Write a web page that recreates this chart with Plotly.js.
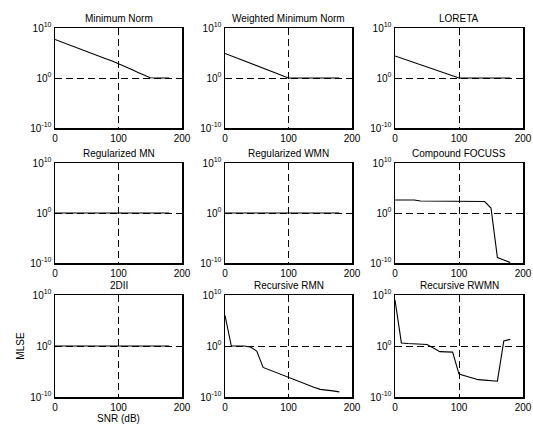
<!DOCTYPE html>
<html>
<head>
<meta charset="utf-8">
<script src="https://cdn.plot.ly/plotly-3.0.1.min.js"></script>
<style>html,body{margin:0;padding:0;background:#fff;}#chart{width:533px;height:426px;}</style>
</head>
<body>
<div id="chart"></div>
<script>
// SNR values (dB)
const snr = [0,10,20,30,40,50,60,70,80,90,100,110,120,130,140,150,160,170,180];

// log10(MLSE), one array per method
const titles = ["Minimum Norm","Weighted Minimum Norm","LORETA",
                "Regularized MN","Regularized WMN","Compound FOCUSS",
                "2DII","Recursive RMN","Recursive RWMN"];
const minNorm    = [7.7,7.2,6.75,6.25,5.8,5.3,4.8,4.35,3.85,3.4,2.9,2.3,1.75,1.15,0.6,0.05,0,0,0];
const wmn        = [4.9,4.4,3.9,3.4,2.9,2.4,1.9,1.4,0.9,0.45,0,0,0,0,0,0,0,0,0];
const loreta     = [4.4,3.95,3.5,3.1,2.65,2.2,1.75,1.3,0.9,0.45,0,0,0,0,0,0,0,0,0];
const regMN      = [0,0,0,0,0,0,0,0,0,0,0,0,0,0,0,0,0,0,0];
const regWMN     = [0,0,0,0,0,0,0,0,0,0,0,0,0,0,0,0,0,0,0];
const focuss     = [2.6,2.6,2.6,2.6,2.4,2.4,2.35,2.3,2.3,2.3,2.3,2.3,2.3,2.3,2.3,1.0,-8.9,-9.4,-9.9];
const dii        = [0,0,0,0,0,0,0,0,0,0,0,0,0,0,0,0,0,0,0];
const recRMN     = [6,0,0,0,-0.2,-1.0,-4.2,-4.7,-5.2,-5.7,-6.2,-6.6,-7.1,-7.6,-8.1,-8.5,-8.6,-8.8,-9.0];
const recRWMN    = [9,0.6,0.5,0.45,0.4,0.3,-0.4,-1.1,-1.15,-1.2,-5.5,-5.9,-6.3,-6.6,-6.7,-6.8,-6.9,1.0,1.3];
const series = [minNorm,wmn,loreta,regMN,regWMN,focuss,dii,recRMN,recRWMN];

const xTicks = [0,100,200];
const yTickVals = [1e-10,1,1e10];
const yTickText = ["10<sup>-10</sup>","10<sup>0</sup>","10<sup>10</sup>"];

const W = 533, H = 426;
const cols = [[55,182],[225,352],[395,523]];
const rows = [[28,128],[163,263],[295,397]];
const font = {family:"Arial, 'Liberation Sans', sans-serif", size:10, color:"#000"};

const data = [];
const layout = {
  width:W, height:H, margin:{l:0,r:0,t:0,b:0},
  paper_bgcolor:"#fff", plot_bgcolor:"#fff",
  showlegend:false, font:font, annotations:[]
};

for (let i=0;i<9;i++){
  const r = Math.floor(i/3), c = i%3;
  const n = i===0 ? "" : String(i+1);
  data.push({
    x:snr, y:series[i].map(v=>Math.pow(10,v)),
    xaxis:"x"+n, yaxis:"y"+n, type:"scatter", mode:"lines",
    line:{color:"#000", width:1.1}, hoverinfo:"skip"
  });
  const xd = [cols[c][0]/W, cols[c][1]/W];
  const yd = [1-rows[r][1]/H, 1-rows[r][0]/H];
  layout["xaxis"+n] = {
    domain:xd, anchor:"y"+n, range:[0,200],
    tickvals:xTicks, ticktext:xTicks.map(String), ticks:"",
    showline:true, mirror:true, linecolor:"#000", linewidth:1.5,
    showgrid:true, gridcolor:"#000", gridwidth:1, griddash:"7px,4px",
    zeroline:false, tickfont:font, ticklabelstandoff:0
  };
  layout["yaxis"+n] = {
    domain:yd, anchor:"x"+n, type:"log", range:[-10,10],
    tickvals:yTickVals, ticktext:yTickText, ticks:"",
    showline:true, mirror:true, linecolor:"#000", linewidth:1.5,
    showgrid:true, gridcolor:"#000", gridwidth:1, griddash:"7px,4px",
    zeroline:false, tickfont:font
  };
  layout.annotations.push({
    text:titles[i], xref:"paper", yref:"paper",
    x:(xd[0]+xd[1])/2, y:yd[1], xanchor:"center", yanchor:"bottom",
    yshift:2, showarrow:false, font:font
  });
}
layout.xaxis7.title = {text:"SNR (dB)", font:font, standoff:2};
layout.yaxis7.title = {text:"MLSE", font:font, standoff:4};

Plotly.newPlot("chart", data, layout, {staticPlot:true, displayModeBar:false});
</script>
</body>
</html>
